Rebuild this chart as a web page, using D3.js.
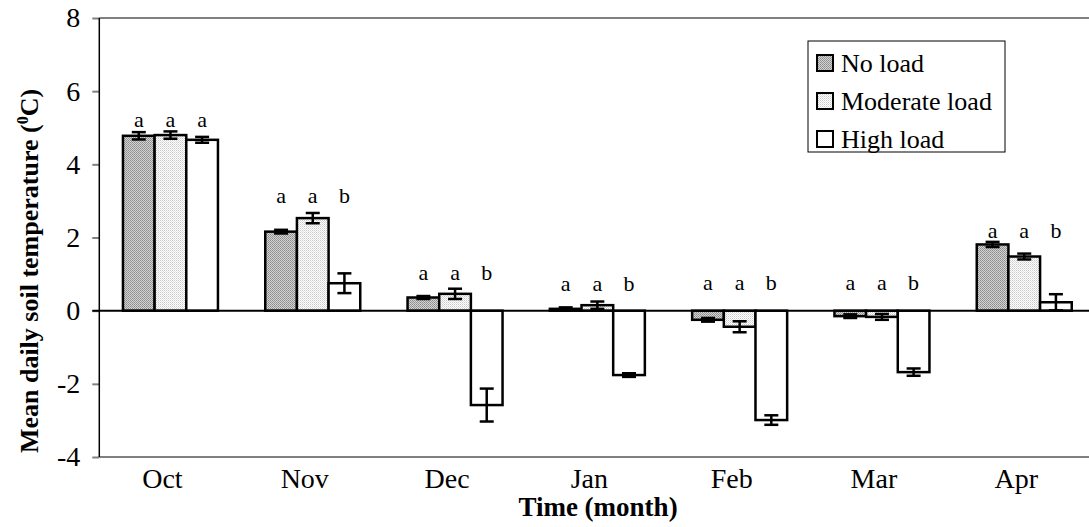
<!DOCTYPE html>
<html>
<head>
<meta charset="utf-8">
<script src="https://cdn.jsdelivr.net/npm/d3@7"></script>
<style>
  html, body { margin: 0; padding: 0; background: #fff; }
  svg { display: block; }
  svg text { font-family: "Liberation Serif", "Times New Roman", serif !important; }
</style>
</head>
<body>
<svg id="chart" width="1089" height="527"></svg>
<script>
// ---- data ----
const months = ["Oct", "Nov", "Dec", "Jan", "Feb", "Mar", "Apr"];
const seriesNames = ["No load", "Moderate load", "High load"];
const noLoad       = [4.78, 2.16, 0.36, 0.05, -0.25, -0.15, 1.81];
const noLoadErr    = [0.10, 0.05, 0.04, 0.04, 0.05, 0.05, 0.07];
const moderateLoad = [4.80, 2.53, 0.46, 0.15, -0.44, -0.17, 1.48];
const moderateErr  = [0.10, 0.14, 0.14, 0.10, 0.15, 0.08, 0.08];
const highLoad     = [4.67, 0.75, -2.58, -1.76, -2.99, -1.68, 0.23];
const highErr      = [0.08, 0.27, 0.45, 0.05, 0.13, 0.10, 0.22];
const letters = [["a","a","a"],["a","a","b"],["a","a","b"],["a","a","b"],["a","a","b"],["a","a","b"],["a","a","b"]];
const letterLevel = [5.02, 2.94, 0.84, 0.54, 0.57, 0.57, 1.99];
const yTicks = [-4, -2, 0, 2, 4, 6, 8];
const xTitle = "Time (month)";

// ---- layout ----
const FONT = "'Liberation Serif', 'Times New Roman', serif";
const svg = d3.select("#chart");
const pLeft = 99.3, pRight = 1095.4, pTop = 18, pBottom = 457;

const defs = svg.append("defs");
const p1 = defs.append("pattern").attr("id", "patNo").attr("patternUnits", "userSpaceOnUse").attr("width", 2).attr("height", 2);
p1.append("rect").attr("width", 2).attr("height", 2).attr("fill", "#d4d4d4");
p1.append("rect").attr("width", 1).attr("height", 1).attr("fill", "#8a8a8a");
p1.append("rect").attr("x", 1).attr("y", 1).attr("width", 1).attr("height", 1).attr("fill", "#9a9a9a");
const p2 = defs.append("pattern").attr("id", "patMod").attr("patternUnits", "userSpaceOnUse").attr("width", 2).attr("height", 2);
p2.append("rect").attr("width", 2).attr("height", 2).attr("fill", "#ffffff");
p2.append("rect").attr("width", 1).attr("height", 1).attr("fill", "#c8c8c8");
p2.append("rect").attr("x", 1).attr("y", 1).attr("width", 1).attr("height", 1).attr("fill", "#e0e0e0");
const fills = ["url(#patNo)", "url(#patMod)", "#ffffff"];

const x = d3.scaleBand().domain(months).range([pLeft, pRight])
  .paddingInner(47.3 / 142.3).paddingOuter(47.3 / 142.3 / 2);
const xs = d3.scaleBand().domain([0, 1, 2]).range([0, x.bandwidth()]);
const y = d3.scaleLinear().domain([-4, 8]).range([pBottom, pTop]);

const vals = [noLoad, moderateLoad, highLoad];
const errs = [noLoadErr, moderateErr, highErr];
const data = [];
months.forEach((m, i) => {
  for (let s = 0; s < 3; s++) data.push({ m, i, s, v: vals[s][i], e: errs[s][i], l: letters[i][s] });
});

// frame lines (top & bottom, grey)
svg.append("line").attr("x1", pLeft).attr("x2", 1089).attr("y1", y(8)).attr("y2", y(8))
  .attr("stroke", "#808080").attr("stroke-width", 2);
svg.append("line").attr("x1", pLeft).attr("x2", 1089).attr("y1", y(-4)).attr("y2", y(-4))
  .attr("stroke", "#808080").attr("stroke-width", 2);

// y axis
const yAxis = svg.append("g").attr("transform", `translate(${pLeft},0)`)
  .call(d3.axisLeft(y).tickValues(yTicks).tickSize(7).tickPadding(12).tickFormat(d3.format("d")));
yAxis.attr("font-family", FONT);
yAxis.select(".domain").remove();
yAxis.selectAll(".tick line").attr("stroke", "#808080").attr("stroke-width", 2);
yAxis.selectAll(".tick text").attr("font-size", 28).attr("fill", "#000")
  .style("font-family", FONT).text(d => d < 0 ? "-" + Math.abs(d) : d);
svg.append("line").attr("x1", pLeft).attr("x2", pLeft).attr("y1", y(8)).attr("y2", y(-4))
  .attr("stroke", "#000").attr("stroke-width", 1.5);

// bars
const bx = d => x(d.m) + xs(d.s);
svg.append("g").selectAll("rect").data(data).join("rect")
  .attr("x", bx).attr("width", xs.bandwidth())
  .attr("y", d => y(Math.max(0, d.v))).attr("height", d => Math.abs(y(d.v) - y(0)))
  .attr("fill", d => fills[d.s]).attr("stroke", "#000").attr("stroke-width", 2.5);

// zero line
svg.append("line").attr("x1", pLeft - 7).attr("x2", 1089).attr("y1", y(0)).attr("y2", y(0))
  .attr("stroke", "#000").attr("stroke-width", 2);

// error bars
const eg = svg.append("g").attr("stroke", "#000").attr("stroke-width", 2.5);
data.forEach(d => {
  const cx = bx(d) + xs.bandwidth() / 2;
  eg.append("line").attr("x1", cx).attr("x2", cx).attr("y1", y(d.v - d.e)).attr("y2", y(d.v + d.e));
  [d.v - d.e, d.v + d.e].forEach(v => eg.append("line").attr("x1", cx - 7).attr("x2", cx + 7).attr("y1", y(v)).attr("y2", y(v)));
});

// letters
svg.append("g").selectAll("text").data(data).join("text")
  .attr("x", d => bx(d) + xs.bandwidth() / 2).attr("y", d => y(letterLevel[d.i]))
  .attr("text-anchor", "middle").attr("font-size", 22).style("font-family", FONT).text(d => d.l);

// x labels
svg.append("g").selectAll("text").data(months).join("text")
  .attr("x", d => x(d) + x.bandwidth() / 2 - 8).attr("y", 488)
  .attr("text-anchor", "middle").attr("font-size", 28).style("font-family", FONT).text(d => d);

// axis titles
svg.append("text").attr("x", 598).attr("y", 516).attr("text-anchor", "middle")
  .attr("font-size", 27).attr("font-weight", "bold").style("font-family", FONT).text(xTitle);
const yt = svg.append("text").attr("transform", "translate(38,271) rotate(-90)")
  .attr("text-anchor", "middle").attr("font-size", 26).attr("font-weight", "bold").style("font-family", FONT);
yt.append("tspan").text("Mean daily soil temperature (");
yt.append("tspan").attr("font-size", 16).attr("dy", -10).text("0");
yt.append("tspan").attr("dy", 10).text("C)");

// legend
const lg = svg.append("g");
lg.append("rect").attr("x", 808).attr("y", 41).attr("width", 197).attr("height", 111)
  .attr("fill", "#fff").attr("stroke", "#000").attr("stroke-width", 1);
const rowsY = [63, 101, 139];
seriesNames.forEach((n, i) => {
  lg.append("rect").attr("x", 817).attr("y", rowsY[i] - 8).attr("width", 16).attr("height", 16)
    .attr("fill", fills[i]).attr("stroke", "#000").attr("stroke-width", 2);
  lg.append("text").attr("x", 841).attr("y", rowsY[i] + 9).attr("font-size", 26)
    .style("font-family", FONT).text(n);
});
</script>
</body>
</html>
